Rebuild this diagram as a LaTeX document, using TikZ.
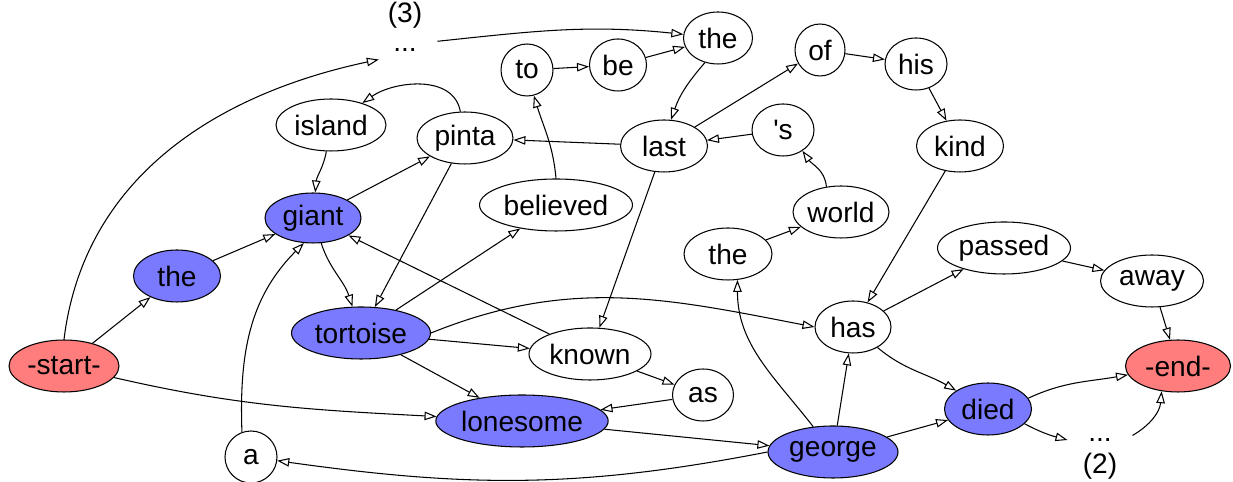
\documentclass[tikz,border=0pt]{standalone}
\usepackage{fontspec}
\setmainfont{Liberation Sans}
\usetikzlibrary{shapes.geometric,arrows.meta}
\definecolor{nodeblue}{RGB}{122,122,255}
\definecolor{nodered}{RGB}{255,125,125}
\begin{document}
\begin{tikzpicture}[x=0.02cm,y=0.02cm,line width=0.6pt,
  >={Triangle[open,length=2.4mm,width=1.7mm]},
  every node/.style={font=\fontsize{16}{19}\selectfont},
  word/.style={ellipse,draw,inner sep=0pt,minimum height=1.04cm,minimum width=#1*0.02cm},
  hlword/.style={word=#1,fill=nodeblue},
  endword/.style={word=#1,fill=nodered},
  gap/.style={rectangle,inner sep=0pt,minimum width=1.28cm,minimum height=0.36cm},
  count/.style={inner sep=0pt}]
\useasboundingbox (0,0) rectangle (1233,482);
%% words
\node[endword=110] (start) at (64,116) {-start-};
\node[hlword=87] (the1) at (177,206) {the};
\node[hlword=96,minimum height=1cm] (giant) at (313,264) {giant};
\node[word=110] (island) at (331,357) {island};
\node[word=96] (pinta) at (465,344) {pinta};
\node[hlword=139] (tortoise) at (361,149) {tortoise};
\node[hlword=172] (lonesome) at (522,61) {lonesome};
\node[word=52] (a) at (251,25) {a};
\node[word=122] (known) at (590,128) {known};
\node[word=61] (as) at (703,87) {as};
\node[word=153] (believed) at (556,277) {believed};
\node[word=52] (to) at (527,412) {to};
\node[word=57] (be) at (618,417) {be};
\node[word=69] (the2) at (718,444) {the};
\node[word=87] (last) at (664,336) {last};
\node[word=50] (of) at (820,432) {of};
\node[word=62] (his) at (916,418) {his};
\node[word=62] (apos) at (783,352) {\textquotesingle s};
\node[word=87] (kind) at (960,336) {kind};
\node[word=96] (world) at (841,270) {world};
\node[word=88] (the3) at (728,228) {the};
\node[word=133] (passed) at (1004,234) {passed};
\node[word=103] (away) at (1152,201) {away};
\node[word=76] (has) at (853,155) {has};
\node[endword=105] (stop) at (1178,116) {-end-};
\node[hlword=87] (died) at (988,73) {died};
\node[hlword=130] (george) at (833,30) {george};
%% gaps
\node[gap] (dots3) at (405,432) {...};
\node[count] (lbl3) at (405,467) {(3)};
\node[gap] (dots2) at (1100,42) {...};
\node[count] (lbl2) at (1100,16) {(2)};
%% left
\draw[->] (start) -- (the1);
\draw[->] (start.north) to[out=83,in=192] (dots3.200);
\draw[->] (start) to[out=-13,in=177] (lonesome);
\draw[->] (the1) -- (giant);
\draw[->] (island) to[out=-100,in=85] (giant);
\draw[->] (pinta) to[out=100,in=35] (island);
\draw[->] (giant) -- (pinta);
\draw[->] (giant) to[out=-72,in=108] (tortoise);
\draw[->] (pinta) -- (tortoise);
\draw[->] (tortoise) -- (believed);
\draw[->] (known) -- (giant);
\draw[->] (a.110) to[out=92,in=-135] (giant.-110);
\draw[->] (tortoise) -- (known);
\draw[->] (tortoise) -- (lonesome);
\draw[->] (tortoise.east) to[out=22,in=169] (has.west);
%% middle
\draw[->] (last) -- (known);
\draw[->] (known) -- (as);
\draw[->] (as) -- (lonesome);
\draw[->] (lonesome) -- (george);
\draw[->] (george.west) to[out=191,in=-8] (a);
\draw[->] (believed.north) to[out=95,in=-73] (to.-75);
\draw[->] (to) -- (be);
\draw[->] (be) -- (the2);
\draw[->] (dots3.15) to[out=6,in=174] (the2);
\draw[->] (the2.-118) to[out=-131,in=71] (last.75);
\draw[->] (last) -- (pinta);
\draw[->] (last) -- (of);
\draw[->] (apos) -- (last);
%% right
\draw[->] (of) -- (his);
\draw[->] (his) -- (kind);
\draw[->] (kind) -- (has);
\draw[->] (world.120) to[out=95,in=-55] (apos.-47);
\draw[->] (the3) -- (world);
\draw[->] (george) to[out=128,in=-90] (the3.-70);
\draw[->] (george) -- (has);
\draw[->] (george) -- (died);
\draw[->] (has) -- (passed);
\draw[->] (has) to[out=-40,in=150] (died);
\draw[->] (passed) -- (away);
\draw[->] (away) -- (stop);
\draw[->] (died.15) to[out=25,in=190] (stop);
\draw[->] (died.-22) to[out=-28,in=165] (dots2.west);
\draw[->] (dots2.8) to[out=30,in=-95] (stop.-123);
\end{tikzpicture}
\end{document}
